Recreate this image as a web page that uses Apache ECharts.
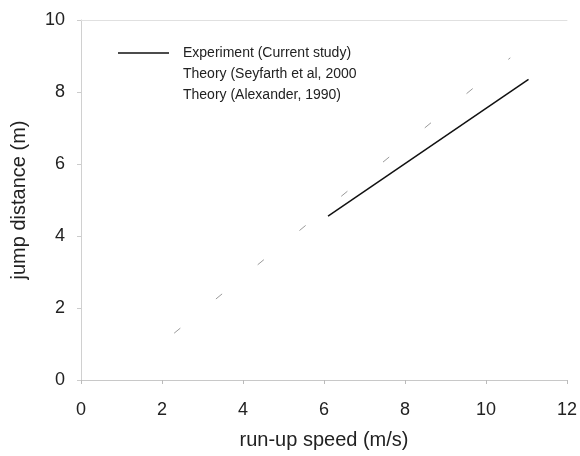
<!DOCTYPE html>
<html>
<head>
<meta charset="utf-8">
<script src="https://cdn.jsdelivr.net/npm/echarts@6/dist/echarts.min.js"></script>
<style>html,body{margin:0;padding:0;background:#fff}#c{width:580px;height:456px}</style>
</head>
<body>
<div id="c"></div>
<script>
const seriesNames = ['Experiment (Current study)', 'Theory (Seyfarth et al, 2000', 'Theory (Alexander, 1990)'];
const experimentSpeed = [6.1, 11.05];
const experimentDistance = [4.55, 8.35];
const seyfarthSpeed = [2.3, 10.6];
const seyfarthDistance = [1.3, 8.95];
const alexanderSpeed = [];
const alexanderDistance = [];
const xTicks = [0, 2, 4, 6, 8, 10, 12];
const yTicks = [0, 2, 4, 6, 8, 10];

const pairs = (xs, ys) => xs.map((x, i) => [x, ys[i]]);

const chart = echarts.init(document.getElementById('c'));
chart.setOption({
  animation: false,
  backgroundColor: '#fff',
  grid: { left: 81, right: 12, top: 20, bottom: 76 },
  legend: {
    left: 113, top: 41, orient: 'vertical',
    icon: 'rect', itemWidth: 51, itemHeight: 1.5, itemGap: 7,
    textStyle: { fontFamily: 'Liberation Sans', fontSize: 14, color: '#222', padding: [0, 0, 0, 9] },
    data: [
      { name: seriesNames[0], itemStyle: { color: '#111' } },
      { name: seriesNames[1], itemStyle: { color: 'rgba(0,0,0,0)' } },
      { name: seriesNames[2], itemStyle: { color: 'rgba(0,0,0,0)' } }
    ]
  },
  xAxis: [{
    type: 'value', min: xTicks[0], max: xTicks[xTicks.length - 1], interval: 2,
    name: 'run-up speed (m/s)', nameLocation: 'middle', nameGap: 50,
    nameTextStyle: { fontFamily: 'Liberation Sans', fontSize: 20, color: '#222' },
    axisLine: { show: true, lineStyle: { color: '#c8c8c8', width: 1 } },
    axisTick: { show: true, length: 4, lineStyle: { color: '#bbb' } },
    axisLabel: { fontFamily: 'Liberation Sans', fontSize: 18, color: '#222', margin: 21 },
    splitLine: { show: false }
  }, {
    type: 'value', position: 'top', min: 0, max: 12,
    axisLine: { show: true, lineStyle: { color: '#e0e0e0' } },
    axisTick: { show: false }, axisLabel: { show: false }, splitLine: { show: false }
  }],
  yAxis: {
    type: 'value', min: yTicks[0], max: yTicks[yTicks.length - 1], interval: 2,
    name: 'jump distance (m)', nameLocation: 'middle', nameGap: 52,
    nameTextStyle: { fontFamily: 'Liberation Sans', fontSize: 20, color: '#222' },
    axisLine: { show: true, lineStyle: { color: '#d0d0d0', width: 1 } },
    axisTick: { show: true, length: 4, lineStyle: { color: '#ccc' } },
    axisLabel: { fontFamily: 'Liberation Sans', fontSize: 18, color: '#222', margin: 16 },
    splitLine: { show: false }
  },
  series: [
    {
      name: seriesNames[0], type: 'line', showSymbol: false, silent: true,
      data: pairs(experimentSpeed, experimentDistance),
      lineStyle: { color: '#111', width: 1.5 }, itemStyle: { color: '#111' }
    },
    {
      name: seriesNames[1], type: 'line', showSymbol: false, silent: true,
      data: pairs(seyfarthSpeed, seyfarthDistance),
      lineStyle: { color: '#9a9a9a', width: 1, type: [8, 46] }, itemStyle: { color: '#9a9a9a' }
    },
    {
      name: seriesNames[2], type: 'line', showSymbol: false, silent: true,
      data: pairs(alexanderSpeed, alexanderDistance),
      lineStyle: { color: '#bbb', width: 1, type: 'dashed' }, itemStyle: { color: '#bbb' }
    }
  ]
});
</script>
</body>
</html>
